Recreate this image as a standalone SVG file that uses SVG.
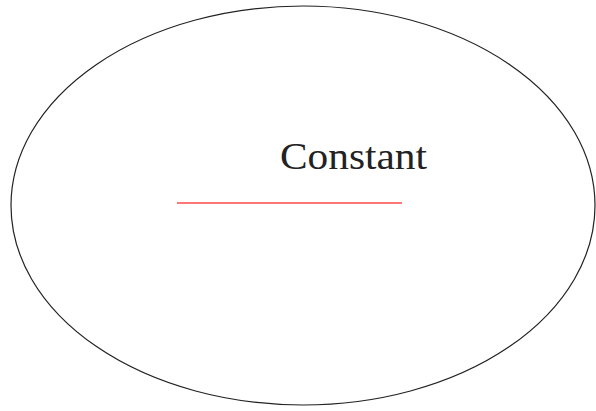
<svg xmlns="http://www.w3.org/2000/svg" width="596" height="411" viewBox="0 0 596 411">
<style>
.outline{fill:none;stroke:#222;stroke-width:1.2}
.lbl{font-family:"Liberation Serif","DejaVu Serif",serif;font-size:38px;fill:#222}
.bar{stroke:#f77;stroke-width:2}
</style>
<rect width="596" height="411" fill="#fff"/>
<g id="ellipse-node">
<ellipse class="outline" cx="303" cy="205.5" rx="292" ry="199.5"/>
<text class="lbl" x="280" y="169" textLength="147" lengthAdjust="spacingAndGlyphs">Constant</text>
</g>
<g id="connectors">
<line class="bar" x1="177" y1="203" x2="402" y2="203"/>
</g>
</svg>
